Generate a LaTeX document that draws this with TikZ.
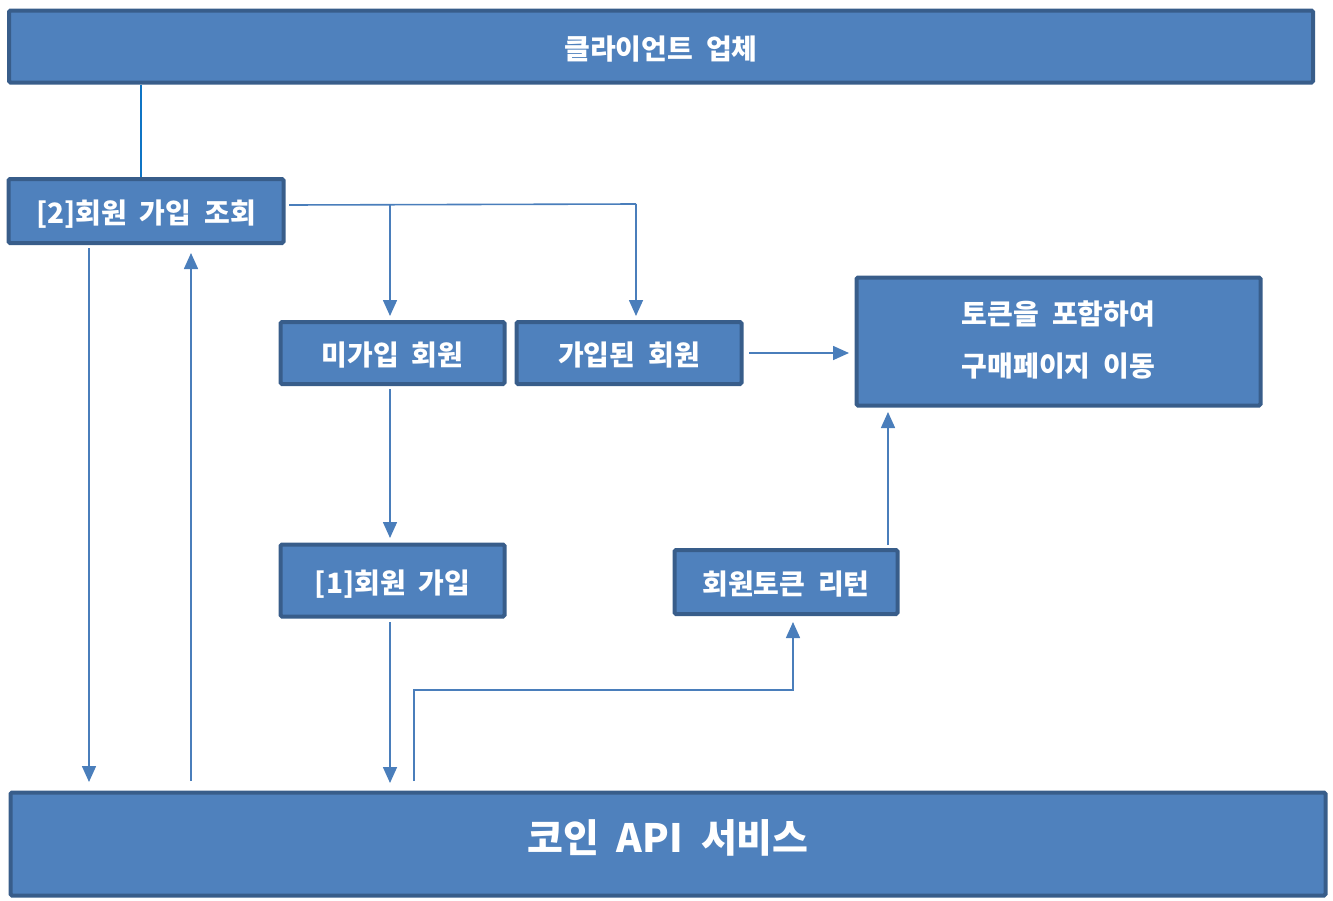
\documentclass[tikz,border=0pt]{standalone}
\usepackage{fontspec}
\setmainfont{Noto Sans CJK KR}
\usetikzlibrary{arrows.meta}
\definecolor{boxfill}{HTML}{4F81BD}
\definecolor{boxline}{HTML}{385D8A}
\definecolor{conn}{HTML}{4A7EBB}
\definecolor{connb}{HTML}{0F74C4}
\tikzset{
  txt/.style={text=white, font=\bfseries\fontsize{28}{34}\selectfont},
  box/.style={draw=boxline, fill=boxfill, line width=4pt, rounded corners=1.5pt,
    txt, inner sep=0pt, align=center, text height=27pt, text depth=2pt},
  arr/.style={draw=conn, line width=1.6pt, -{Triangle[length=16pt,width=14pt]}},
  ln/.style={draw=conn, line width=1.6pt},
}
\begin{document}
\begin{tikzpicture}[x=1pt,y=-1pt]
\useasboundingbox (0,0) rectangle (1333,900);
% boxes
\node[box, minimum width=1304, minimum height=72] (client) at (661,46.5) {클라이언트\ \ 업체};
\node[box, minimum width=275, minimum height=64] (q2) at (146,211) {[2]회원\ \ 가입\ \ 조회};
\node[box, minimum width=224, minimum height=62] (non) at (392.5,353) {미가입\ \ 회원};
\node[box, minimum width=225, minimum height=62] (mem) at (629,353) {가입된\ \ 회원};
\node[box, minimum width=404, minimum height=128] (buy) at (1058.5,341.5) {};
\node[txt] (buyt1) at (1058.5,314) {토큰을\ \ 포함하여};
\node[txt] (buyt2) at (1058.5,366) {구매페이지\ \ 이동};
\node[box, minimum width=224, minimum height=72] (join) at (392.5,580.5) {[1]회원\ \ 가입};
\node[box, minimum width=223, minimum height=64] (tok) at (786,582) {회원토큰\ \ 리턴};
\node[box, minimum width=1315, minimum height=103] (api) at (668,844) {};
\node[text=white, font=\bfseries\fontsize{39}{46}\selectfont] (apit) at (668,838) {코인\ \ API\ \ 서비스};
% coordinates
\coordinate (a1) at (289,205);
\coordinate (a2) at (636,204);
\coordinate (b1) at (390,205);
% connectors
\draw[draw=connb, line width=1.6pt] (client.south -| 141,0) -- (q2.north -| 141,0);
\draw[ln] (a1) -- (a2);
\draw[arr] (b1) -- (390,316);
\draw[arr] (a2) -- (636,316);
\draw[arr] (749,353) -- (849,353);
\draw[arr] (390,389) -- (390,538);
\draw[arr] (390,622) -- (390,783);
\draw[arr] (414,781) -- (414,690) -- (793,690) -- (793,622);
\draw[arr] (888,545) -- (888,412);
\draw[arr] (89,248) -- (89,782);
\draw[arr] (191,781) -- (191,253);
\end{tikzpicture}
\end{document}
